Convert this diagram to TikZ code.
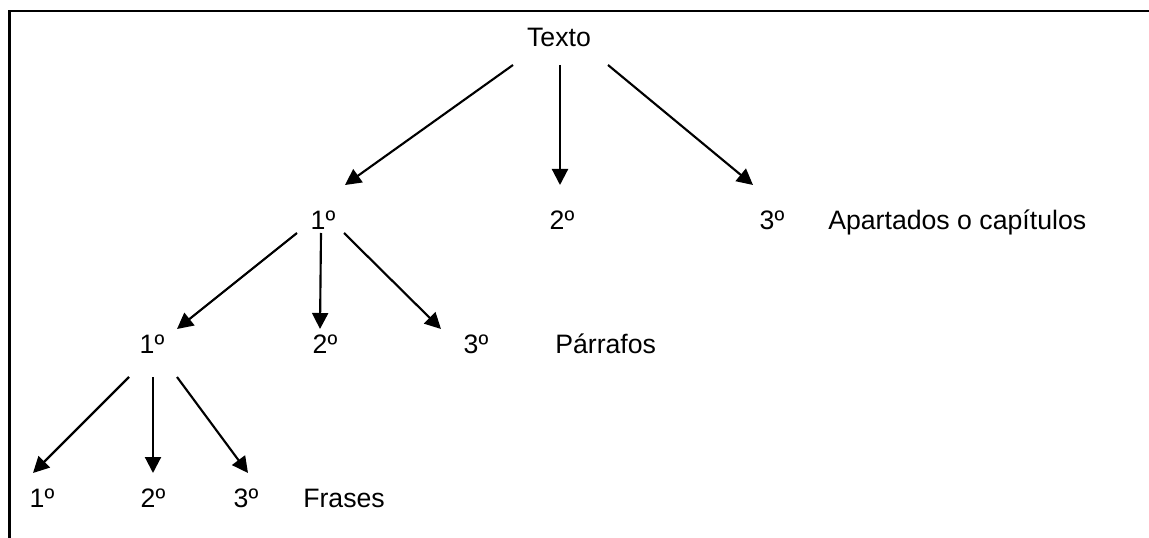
\documentclass[tikz,border=0pt]{standalone}
\usepackage{fontspec}
\setmainfont{Liberation Sans}
\usetikzlibrary{arrows.meta}
\begin{document}
\begin{tikzpicture}[x=0.75pt,y=-0.75pt,
  lbl/.style={inner sep=0pt,anchor=base,font=\fontsize{20}{24}\selectfont},
  lblw/.style={lbl,anchor=base west},
  arr/.style={line width=1.6pt,-{Triangle[length=12pt,width=12pt]}},
  frame/.style={line width=1.9pt}]
\useasboundingbox (0,0) rectangle (1149,538);
\draw[frame] (9.5,538) -- (9.5,11) -- (1149,11);
% level 0
\node[lbl] (t) at (559,47) {Texto};
% level 1
\node[lbl] (a1) at (323,230) {1º};
\node[lbl] (a2) at (562,230) {2º};
\node[lbl] (a3) at (772,230) {3º};
\node[lblw] (la) at (828,230) {Apartados o capítulos};
% level 2
\node[lbl] (b1) at (152,353) {1º};
\node[lbl] (b2) at (325,353) {2º};
\node[lbl] (b3) at (476,353) {3º};
\node[lblw] (lb) at (555,353) {Párrafos};
% level 3
\node[lbl] (c1) at (42,507) {1º};
\node[lbl] (c2) at (153,507) {2º};
\node[lbl] (c3) at (246,507) {3º};
\node[lblw] (lc) at (303,507) {Frases};
% arrows
\draw[arr] ([shift={(-46,18)}]t.base) -- ([shift={(22,-45)}]a1.base);
\draw[arr] ([shift={(1,18)}]t.base) -- ([shift={(-2,-45)}]a2.base);
\draw[arr] ([shift={(49,18)}]t.base) -- ([shift={(-19,-45)}]a3.base);
\draw[arr] ([shift={(-26,3)}]a1.base) -- ([shift={(25,-24)}]b1.base);
\draw[arr] ([shift={(-2,3)}]a1.base) -- ([shift={(-5,-24)}]b2.base);
\draw[arr] ([shift={(21,3)}]a1.base) -- ([shift={(-35,-24)}]b3.base);
\draw[arr] ([shift={(-23,24)}]b1.base) -- ([shift={(-9,-34)}]c1.base);
\draw[arr] ([shift={(1,24)}]b1.base) -- ([shift={(0,-34)}]c2.base);
\draw[arr] ([shift={(25,24)}]b1.base) -- ([shift={(2,-34)}]c3.base);
\end{tikzpicture}
\end{document}
